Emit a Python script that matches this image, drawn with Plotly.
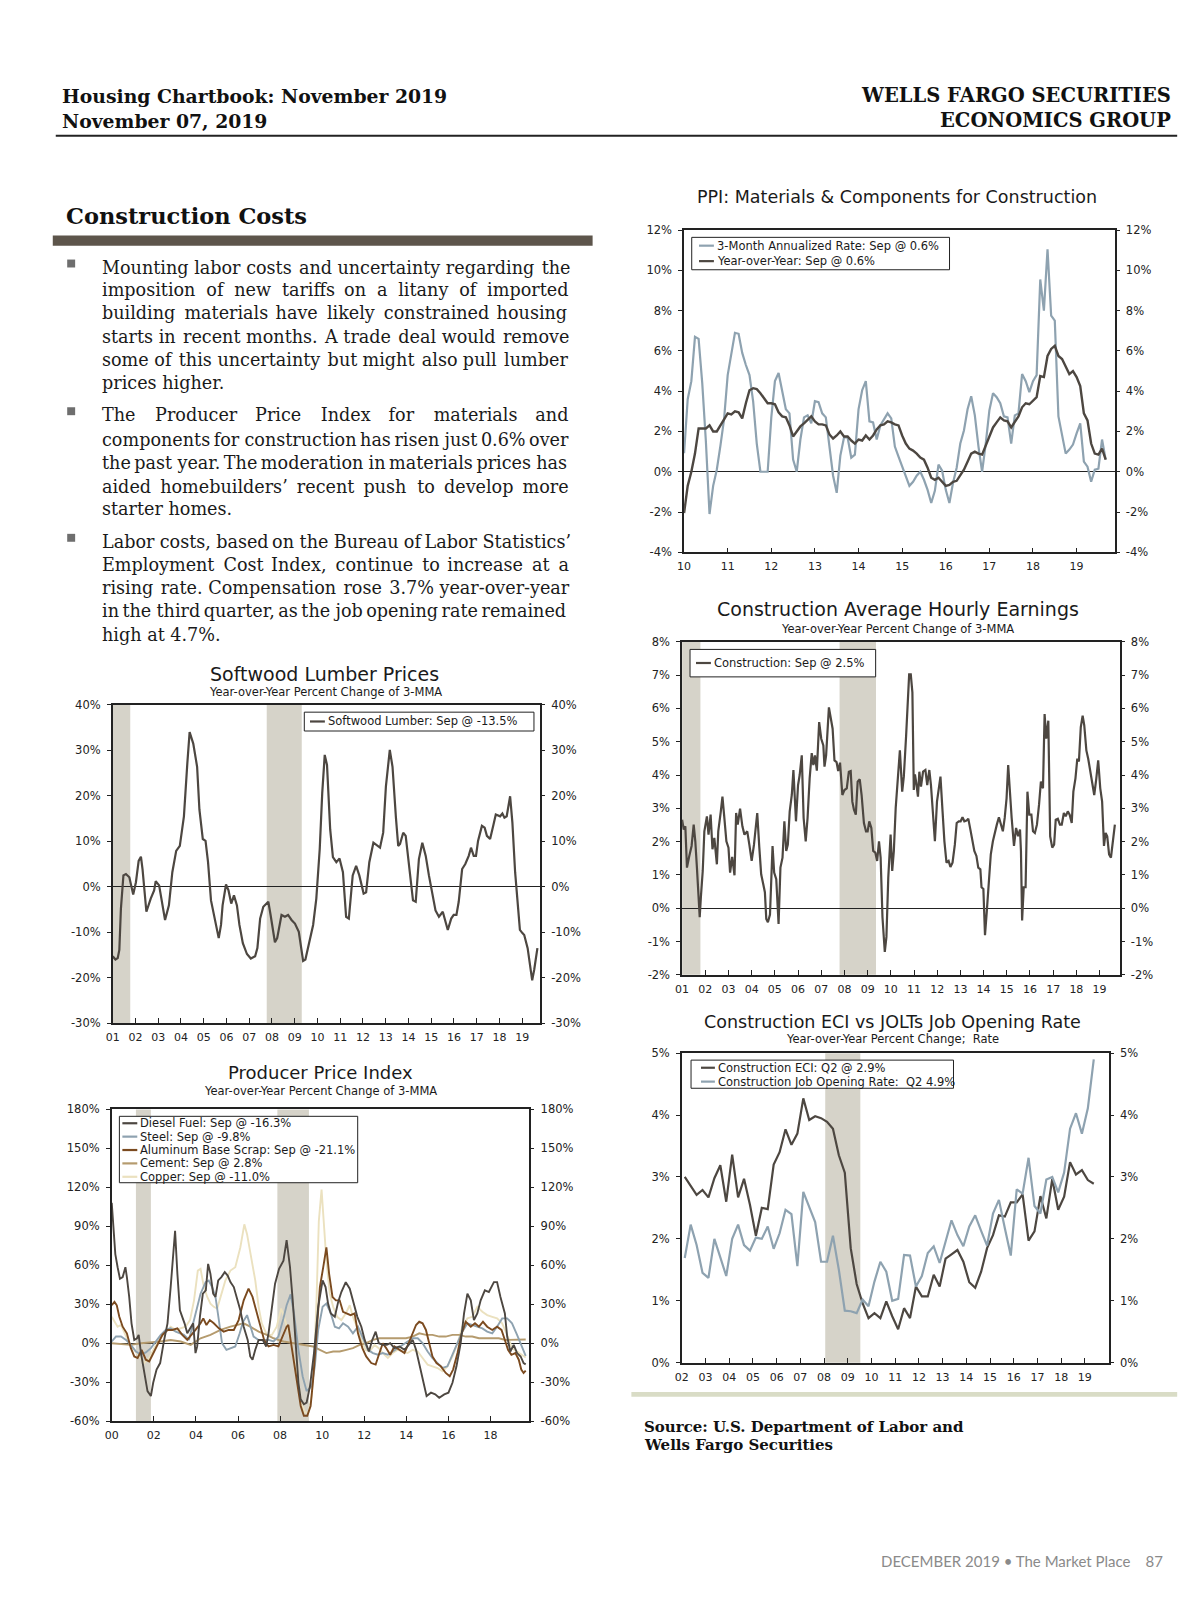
import plotly.graph_objects as go

W, H = 1200, 1606
def fx(x): return x / W
def fy(y): return 1 - y / H

DARK = '#4d4741'
LIGHT = '#8ea2b0'
REC = '#d6d3c9'

# ---------------- data ----------------
# PPI: Materials & Components for Construction, monthly Jan-2010 .. Sep-2019
ppi_start = 2010
ppi_3m = [0.92, 3.6, 4.5, 6.7, 6.6, 4.4, 1.5, -2.1, -0.7, 0.1,
          1.3, 2.6, 4.8, 5.9, 6.9, 6.85, 5.9, 5.3, 4.8, 3.5,
          1.4, 0.0, 0.0, 0.0, 2.7, 4.5, 4.9, 4.0, 3.1, 2.9,
          0.6, 0.0, 1.6, 2.7, 2.8, 2.4, 3.5, 3.45, 2.9, 2.7,
          1.3, -0.2, -1.05, 0.8, 1.7, 1.7, 0.7, 0.85, 3.1, 4.05,
          4.5, 2.5, 2.45, 1.6, 2.3, 2.6, 2.9, 2.65, 1.25, 0.75,
          0.25, -0.3, -0.7, -0.5, -0.2, 0.0, -0.4, -0.9, -1.55, -0.95,
          0.35, 0.05, -0.9, -1.55, -0.55, 0.2, 1.4, 2.05, 3.1, 3.75,
          2.8, 1.25, 0.0, 1.4, 3.05, 3.9, 3.7, 3.4, 2.75, 2.7,
          1.4, 2.8, 2.9, 4.85, 4.5, 3.95, 4.5, 4.8, 9.55, 8.0,
          11.05, 7.75, 7.5, 2.75, 1.8, 0.9, 1.1, 1.35, 1.9, 2.4,
          0.5, 0.25, -0.5, 0.1, 0.15, 1.6, 0.6]
ppi_yoy = [-2.05, -0.7, 0.0, 0.9, 2.15, 2.15, 2.15, 2.3, 2.0, 2.0,
           2.3, 2.55, 2.9, 2.85, 3.0, 2.95, 2.65, 3.4, 4.05, 4.15,
           4.1, 3.9, 3.65, 3.4, 3.4, 3.35, 2.95, 2.75, 2.7, 2.3,
           1.75, 2.0, 2.25, 2.4, 2.6, 2.75, 2.5, 2.35, 2.35, 2.3,
           1.85, 1.65, 1.8, 2.0, 1.75, 1.75, 1.55, 1.4, 1.6, 1.55,
           1.8, 1.6, 1.8, 2.1, 2.3, 2.35, 2.5, 2.45, 2.35, 2.3,
           1.8, 1.4, 1.15, 1.05, 0.9, 0.7, 0.6, 0.2, -0.3, -0.4,
           -0.3, -0.5, -0.7, -0.65, -0.5, -0.45, -0.2, 0.1, 0.5, 0.9,
           1.0, 0.9, 0.85, 1.3, 1.8, 2.2, 2.45, 2.7, 2.55, 2.5,
           2.2, 2.5, 2.75, 3.2, 3.4, 3.35, 3.55, 3.7, 4.75, 4.7,
           5.75, 6.1, 6.25, 5.75, 5.6, 5.25, 4.85, 5.0, 4.7, 4.25,
           2.9, 2.55, 1.4, 0.9, 0.85, 1.15, 0.6]

# Softwood lumber, YoY % of 3-MMA (decimal years)
lumber_t = [2001.00, 2001.12, 2001.22, 2001.29, 2001.36, 2001.47, 2001.58, 2001.73, 2001.90,
            2002.02, 2002.14, 2002.24, 2002.31, 2002.48, 2002.67, 2002.82, 2002.89,
            2003.04, 2003.30, 2003.47, 2003.62, 2003.79, 2003.95,
            2004.13, 2004.28, 2004.38, 2004.54, 2004.71, 2004.81, 2004.96,
            2005.08, 2005.19, 2005.32, 2005.44, 2005.66, 2005.76, 2005.83, 2005.98,
            2006.09, 2006.21, 2006.33, 2006.46, 2006.57, 2006.72, 2006.90,
            2007.07, 2007.26, 2007.36, 2007.48, 2007.62, 2007.84, 2007.94,
            2008.13, 2008.23, 2008.42, 2008.57, 2008.71, 2008.86,
            2009.01, 2009.18, 2009.37, 2009.47, 2009.66, 2009.81, 2009.95,
            2010.10, 2010.21, 2010.32, 2010.42, 2010.56, 2010.68, 2010.83, 2010.97,
            2011.12, 2011.26, 2011.38, 2011.55, 2011.70, 2011.84,
            2012.03, 2012.14, 2012.28, 2012.46, 2012.64, 2012.75, 2012.89,
            2013.01, 2013.18, 2013.30, 2013.45, 2013.55, 2013.63, 2013.77, 2013.88,
            2014.00, 2014.10, 2014.20, 2014.32, 2014.46, 2014.61, 2014.76, 2014.90,
            2015.05, 2015.19, 2015.34, 2015.51, 2015.73, 2015.88, 2015.99,
            2016.11, 2016.21, 2016.36, 2016.50, 2016.65, 2016.75, 2016.87, 2016.97,
            2017.06, 2017.23, 2017.35, 2017.45, 2017.59, 2017.74, 2017.84,
            2018.03, 2018.13, 2018.22, 2018.32, 2018.47, 2018.57, 2018.69, 2018.83, 2018.90,
            2019.01, 2019.09, 2019.24, 2019.34, 2019.44, 2019.53, 2019.67]
lumber_v = [-15.3, -16.0, -15.7, -13.9, -4.8, 2.5, 2.8, 2.1, -1.7,
            1.0, 5.7, 6.6, 3.9, -5.5, -2.6, -0.8, 1.2,
            0.3, -7.3, -4.1, 3.2, 7.9, 9.0,
            15.5, 27.2, 34.0, 31.5, 26.4, 17.0, 10.5,
            10.1, 5.4, -3.0, -6.2, -11.3, -8.4, -4.1, 0.5,
            -0.8, -3.7, -1.9, -4.1, -8.4, -12.4, -14.8,
            -15.8, -15.3, -13.5, -7.0, -4.4, -3.3, -6.2,
            -12.2, -11.3, -6.2, -6.6, -6.2, -7.3,
            -8.1, -9.9, -16.3, -16.0, -12.0, -8.4, -2.6,
            8.3, 20.6, 29.0, 26.8, 12.6, 6.5, 5.4, 6.2,
            3.2, -6.6, -7.0, 2.5, 4.6, 2.5,
            -1.5, -1.2, 5.4, 9.7, 8.9, 8.6, 11.9,
            22.1, 30.1, 26.4, 15.2, 9.0, 9.4, 11.9, 11.2,
            5.4, 1.0, -3.0, -3.3, 6.1, 9.7, 6.8, 2.5,
            -1.9, -5.2, -6.6, -5.5, -9.5, -7.0, -6.2,
            -6.2, -3.3, 3.9, 5.0, 6.8, 8.6, 6.8, 6.8,
            10.1, 13.4, 13.0, 11.2, 10.5, 13.7, 15.9,
            15.5, 16.1, 15.2, 15.5, 19.9, 14.1, 3.2, -4.8, -9.5,
            -10.2, -10.6, -13.5, -17.1, -20.6, -18.2, -13.5]

# Construction average hourly earnings, YoY % of 3-MMA
ahe_t = [2001.00, 2001.07, 2001.14, 2001.21, 2001.31, 2001.41, 2001.50, 2001.57, 2001.64, 2001.70,
         2001.76, 2001.81, 2001.89, 2001.96, 2002.07, 2002.14, 2002.23, 2002.31, 2002.39, 2002.50,
         2002.56, 2002.67, 2002.74, 2002.81, 2002.91, 2003.00, 2003.07, 2003.16, 2003.26, 2003.33,
         2003.40, 2003.50, 2003.60, 2003.69, 2003.81, 2003.90, 2004.00, 2004.10, 2004.24, 2004.33,
         2004.41, 2004.50, 2004.57, 2004.63, 2004.70, 2004.79, 2004.90, 2004.97, 2005.06, 2005.16,
         2005.24, 2005.33, 2005.41, 2005.49, 2005.56, 2005.64, 2005.73, 2005.80, 2005.91, 2006.00,
         2006.07, 2006.16, 2006.24, 2006.33, 2006.41, 2006.50, 2006.59, 2006.66, 2006.73, 2006.81,
         2006.91, 2007.00, 2007.09, 2007.14, 2007.21, 2007.33, 2007.41, 2007.49, 2007.57, 2007.66,
         2007.73, 2007.81, 2007.91, 2008.00, 2008.10, 2008.19, 2008.27, 2008.34, 2008.41, 2008.49,
         2008.57, 2008.66, 2008.74, 2008.84, 2008.93, 2009.00, 2009.07, 2009.16, 2009.24, 2009.33,
         2009.41, 2009.49, 2009.56, 2009.64, 2009.74, 2009.81, 2009.89, 2009.99, 2010.06, 2010.13,
         2010.21, 2010.31, 2010.39, 2010.49, 2010.56, 2010.66, 2010.73, 2010.79, 2010.86, 2010.93,
         2010.99, 2011.04, 2011.10, 2011.17, 2011.23, 2011.30, 2011.39, 2011.49, 2011.57, 2011.66,
         2011.73, 2011.81, 2011.90, 2011.99, 2012.06, 2012.14, 2012.23, 2012.31, 2012.40, 2012.49,
         2012.57, 2012.66, 2012.76, 2012.84, 2012.93, 2013.01, 2013.09, 2013.17, 2013.26, 2013.34,
         2013.43, 2013.51, 2013.60, 2013.69, 2013.77, 2013.86, 2013.91, 2013.99, 2014.06, 2014.14,
         2014.23, 2014.31, 2014.40, 2014.49, 2014.57, 2014.66, 2014.74, 2014.83, 2014.91, 2014.99,
         2015.06, 2015.13, 2015.21, 2015.31, 2015.40, 2015.49, 2015.57, 2015.61, 2015.66, 2015.73,
         2015.81, 2015.89, 2015.97, 2016.06, 2016.13, 2016.21, 2016.30, 2016.39, 2016.47, 2016.56,
         2016.63, 2016.70, 2016.79, 2016.87, 2016.96, 2017.04, 2017.11, 2017.20, 2017.29, 2017.37,
         2017.46, 2017.54, 2017.63, 2017.71, 2017.80, 2017.87, 2017.96, 2018.04, 2018.11, 2018.19,
         2018.27, 2018.34, 2018.43, 2018.51, 2018.60, 2018.69, 2018.77, 2018.86, 2018.94, 2019.03,
         2019.11, 2019.19, 2019.26, 2019.33, 2019.41, 2019.49, 2019.57, 2019.66]
ahe_v = [2.66, 2.36, 2.46, 1.22, 1.57, 1.87, 2.51, 2.01, 1.22, 0.43,
         -0.27, 0.33, 1.12, 2.31, 2.76, 2.21, 2.81, 1.77, 2.11, 1.32,
         2.31, 2.91, 3.35, 2.81, 2.01, 1.82, 1.07, 1.54, 0.99, 2.86,
         2.51, 2.99, 2.46, 2.21, 2.31, 1.91, 1.42, 1.91, 2.86, 1.82,
         1.02, 0.72, 0.48, -0.32, -0.42, -0.19, 1.87, 1.07, 0.87, -0.47,
         1.22, 1.52, 2.61, 1.72, 1.91, 2.91, 3.40, 4.15, 2.61, 3.70,
         4.00, 4.59, 2.71, 2.01, 2.71, 3.90, 4.66, 4.30, 4.59, 4.13,
         5.59, 5.09, 4.89, 4.25, 4.59, 6.03, 5.68, 5.39, 4.44, 4.39,
         4.12, 4.37, 3.40, 3.55, 3.60, 4.10, 4.12, 3.20, 2.96, 2.81,
         3.80, 3.87, 3.40, 2.56, 2.31, 2.31, 2.61, 2.41, 1.72, 1.67,
         1.42, 2.01, 1.52, -0.27, -1.31, -0.86, 0.92, 2.21, 1.12, 1.72,
         3.01, 4.10, 4.74, 3.50, 3.95, 5.19, 5.98, 7.02, 7.02, 6.48,
         3.55, 4.02, 3.75, 3.35, 4.10, 3.65, 4.10, 4.15, 3.70, 4.15,
         3.70, 2.91, 2.01, 3.20, 3.50, 3.95, 2.91, 2.01, 1.37, 1.42,
         1.24, 1.37, 1.91, 2.56, 2.61, 2.61, 2.73, 2.61, 2.63, 2.69,
         2.36, 2.06, 1.72, 1.57, 1.22, 1.17, 0.63, 0.58, -0.81, -0.07,
         0.82, 1.62, 2.01, 2.31, 2.51, 2.73, 2.51, 2.31, 2.71, 3.30,
         4.30, 3.50, 2.71, 1.87, 2.41, 2.16, 2.36, 1.72, -0.37, 0.63,
         0.63, 3.50, 2.81, 2.81, 2.31, 2.26, 2.51, 3.11, 3.80, 3.60,
         5.83, 5.09, 5.63, 2.16, 1.82, 1.91, 2.66, 2.69, 2.51, 2.51,
         2.86, 2.76, 2.91, 2.81, 2.56, 3.50, 3.90, 4.49, 4.41, 5.44,
         5.78, 5.49, 4.74, 4.49, 4.15, 3.80, 3.40, 3.90, 4.44, 3.60,
         3.20, 1.87, 2.26, 2.16, 1.62, 1.52, 2.01, 2.51]

# Construction ECI vs JOLTS job opening rate, quarterly 2002Q1 .. 2019Q2
eci_start = 2002
eci = [3.0, 2.86, 2.71, 2.79, 2.67, 2.98, 3.19, 2.6, 3.36, 2.67,
       2.97, 2.55, 2.05, 2.5, 2.48, 3.2, 3.4, 3.77, 3.52, 3.7,
       4.27, 3.92, 3.98, 3.95, 3.89, 3.78, 3.35, 3.07, 1.85, 1.27,
       0.96, 0.72, 0.8, 0.72, 0.99, 0.75, 0.54, 0.88, 0.72, 1.23,
       1.07, 1.07, 1.42, 1.23, 1.68, 1.75, 1.82, 1.63, 1.3, 1.21,
       1.47, 1.85, 2.06, 2.38, 2.36, 2.59, 2.59, 2.72, 1.97, 2.12,
       2.69, 2.33, 2.97, 2.47, 2.68, 3.24, 3.04, 3.11, 2.95, 2.89]
jolts = [1.69, 2.23, 1.9, 1.45, 1.37, 2.0, 1.7, 1.4, 2.0, 2.23,
         1.9, 1.81, 2.02, 2.0, 2.2, 1.84, 2.09, 2.47, 2.4, 1.56,
         2.76, 2.52, 2.27, 1.63, 1.63, 2.05, 1.5, 0.84, 0.83, 0.8,
         1.02, 0.91, 1.31, 1.63, 1.47, 1.0, 1.03, 1.74, 1.73, 1.23,
         1.4, 1.77, 1.88, 1.61, 1.96, 2.3, 2.06, 1.88, 2.2, 2.38,
         2.13, 1.89, 2.41, 2.63, 2.17, 1.73, 2.8, 2.73, 3.31, 2.53,
         2.41, 2.96, 3.0, 2.75, 3.07, 3.78, 4.03, 3.7, 4.11, 4.9]

# Producer price index components, YoY % of 3-MMA
diesel_t = [2000.00, 2000.08, 2000.17, 2000.28, 2000.39, 2000.52, 2000.65, 2000.72, 2000.83, 2000.94,
            2001.07, 2001.20, 2001.28, 2001.39, 2001.51, 2001.70, 2001.86, 2001.97, 2002.13, 2002.30,
            2002.49, 2002.65, 2002.80, 2002.93, 2003.01, 2003.12, 2003.24, 2003.35, 2003.46, 2003.59,
            2003.75, 2003.87, 2003.98, 2004.06, 2004.19, 2004.33, 2004.47, 2004.58, 2004.69, 2004.82,
            2004.93, 2005.06, 2005.21, 2005.37, 2005.51, 2005.64, 2005.80, 2005.95, 2006.11, 2006.27,
            2006.46, 2006.58, 2006.69, 2006.82, 2006.98, 2007.18, 2007.34, 2007.45, 2007.61, 2007.76,
            2007.95, 2008.16, 2008.31, 2008.47, 2008.60, 2008.74, 2008.87, 2008.98, 2009.13, 2009.26,
            2009.42, 2009.61, 2009.81, 2010.02, 2010.16, 2010.28, 2010.41, 2010.60, 2010.76, 2010.91,
            2011.12, 2011.31, 2011.46, 2011.67, 2011.86, 2012.02, 2012.22, 2012.38, 2012.54, 2012.69,
            2012.88, 2013.07, 2013.23, 2013.43, 2013.67, 2013.91, 2014.11, 2014.30, 2014.46, 2014.61,
            2014.77, 2014.96, 2015.17, 2015.37, 2015.56, 2015.80, 2016.00, 2016.19, 2016.38, 2016.58,
            2016.74, 2016.90, 2017.06, 2017.21, 2017.37, 2017.53, 2017.73, 2017.92, 2018.16, 2018.31,
            2018.47, 2018.68, 2018.79, 2018.94, 2019.10, 2019.26, 2019.43, 2019.57, 2019.67]
diesel_v = [108, 89, 68.6, 58.5, 49.6, 50.9, 58.5, 50.9, 35.6, 15.3,
            2.5, 3.8, 6.4, -7.6, -20.3, -36.9, -40.7, -30.5, -20.3, -15.3,
            2.5, 15.3, 43.2, 68.6, 86.5, 53.4, 25.4, 20.3, 15.3, 7.6,
            12.7, 15.3, -7.6, -2.5, 20.3, 38.1, 40.7, 61.0, 53.4, 38.1,
            35.6, 48.3, 50.9, 54.7, 52.1, 47.0, 43.2, 34.3, 25.4, 12.7,
            2.5, -10.2, -12.7, -5.1, 2.5, 2.5, -2.5, 7.6, 28.0, 45.8,
            57.2, 63.6, 79.3, 58.5, 33.0, -2.5, -30.5, -43.2, -47.0, -45.8,
            -33.0, -7.6, 28.0, 48.3, 43.2, 30.5, 22.9, 20.3, 31.8, 39.4,
            47.0, 42.0, 33.0, 20.3, 12.7, 2.5, -6.4, 2.5, 8.9, 0.0,
            -1.3, -1.3, 0.0, -3.8, -2.5, -5.1, -1.3, 2.5, -5.1, -15.3,
            -28.0, -40.7, -38.1, -39.4, -42.0, -39.4, -38.1, -30.5, -17.8, 0.0,
            22.9, 38.1, 33.0, 17.8, 22.9, 33.0, 40.7, 39.4, 47.0, 47.0,
            35.6, 22.9, 5.1, -6.4, -1.3, -7.6, -10.2, -15.3, -16.3]
steel_t = [2000.00, 2000.20, 2000.44, 2000.68, 2000.91, 2001.15, 2001.39, 2001.62, 2001.86, 2002.09,
           2002.33, 2002.57, 2002.80, 2003.04, 2003.24, 2003.43, 2003.67, 2003.87, 2004.03, 2004.22,
           2004.46, 2004.61, 2004.77, 2004.93, 2005.09, 2005.24, 2005.45, 2005.64, 2005.87, 2006.08,
           2006.24, 2006.43, 2006.58, 2006.74, 2006.98, 2007.21, 2007.45, 2007.69, 2007.92, 2008.16,
           2008.31, 2008.50, 2008.66, 2008.87, 2009.07, 2009.26, 2009.50, 2009.65, 2009.81, 2010.02,
           2010.20, 2010.41, 2010.60, 2010.80, 2010.99, 2011.23, 2011.46, 2011.70, 2011.94, 2012.17,
           2012.41, 2012.65, 2012.88, 2013.12, 2013.35, 2013.59, 2013.83, 2014.06, 2014.30, 2014.54,
           2014.77, 2015.01, 2015.24, 2015.48, 2015.72, 2015.95, 2016.19, 2016.43, 2016.66, 2016.90,
           2017.13, 2017.37, 2017.61, 2017.84, 2018.08, 2018.31, 2018.55, 2018.79, 2019.02, 2019.26,
           2019.50, 2019.67]
steel_v = [1.3, 5.1, 5.1, 2.5, -1.3, -6.4, -8.9, -7.1, -3.8, 1.3,
           6.4, 10.2, 11.4, 8.9, 7.6, 6.4, 2.5, 15.3, 25.4, 38.1,
           47.0, 48.3, 43.2, 35.6, 17.8, 0.0, -5.1, -3.8, -2.5, 7.6,
           16.5, 21.6, 12.7, 5.1, 2.5, 2.5, 2.5, 1.3, 5.1, 19.1,
           29.2, 37.6, 22.9, -5.1, -25.4, -36.9, -33.0, -17.8, 10.2, 28.0,
           30.5, 22.9, 12.7, 11.4, 15.3, 12.7, 7.6, 12.7, 3.8, -5.1,
           -7.6, -8.9, -7.6, -8.9, -6.4, -3.8, -1.3, 1.3, 3.8, 3.8,
           0.0, -6.4, -11.4, -15.3, -19.1, -17.8, -8.9, 1.3, 8.9, 15.3,
           14.0, 12.7, 11.4, 8.9, 7.6, 12.7, 19.1, 19.1, 15.3, 6.4,
           -3.8, -9.8]
alum_t = [2000.00, 2000.13, 2000.24, 2000.36, 2000.52, 2000.72, 2000.91, 2001.07, 2001.23, 2001.42,
          2001.62, 2001.78, 2001.94, 2002.17, 2002.41, 2002.65, 2002.88, 2003.12, 2003.35, 2003.59,
          2003.80, 2003.98, 2004.22, 2004.35, 2004.50, 2004.66, 2004.85, 2005.09, 2005.32, 2005.56,
          2005.80, 2006.03, 2006.27, 2006.50, 2006.69, 2006.87, 2007.06, 2007.24, 2007.45, 2007.69,
          2007.92, 2008.13, 2008.31, 2008.39, 2008.50, 2008.66, 2008.82, 2008.98, 2009.13, 2009.29,
          2009.45, 2009.57, 2009.73, 2009.89, 2010.05, 2010.20, 2010.33, 2010.49, 2010.65, 2010.83,
          2010.99, 2011.15, 2011.35, 2011.54, 2011.70, 2011.91, 2012.09, 2012.33, 2012.54, 2012.72,
          2012.88, 2013.04, 2013.23, 2013.43, 2013.67, 2013.91, 2014.11, 2014.30, 2014.46, 2014.61,
          2014.77, 2014.93, 2015.09, 2015.24, 2015.43, 2015.64, 2015.87, 2016.06, 2016.22, 2016.43,
          2016.63, 2016.82, 2017.06, 2017.26, 2017.45, 2017.64, 2017.84, 2018.08, 2018.31, 2018.52,
          2018.68, 2018.83, 2018.99, 2019.18, 2019.34, 2019.46, 2019.57, 2019.67]
alum_v = [29.2, 31.8, 29.2, 20.3, 12.7, 7.6, -3.8, -10.2, -11.4, -5.1,
          -12.7, -14.0, -8.9, -1.3, 6.4, 10.2, 10.2, 11.4, 6.4, 2.5,
          6.4, 10.2, 15.3, 19.1, 14.0, 17.8, 15.3, 11.4, 8.9, 10.2,
          10.2, 17.8, 33.0, 42.0, 35.6, 25.4, 12.7, 2.5, -2.5, -1.3,
          -2.5, 5.1, 12.7, 14.0, 2.5, -12.7, -33.0, -48.3, -55.9, -55.9,
          -48.3, -28.0, 7.6, 43.2, 58.5, 73.7, 53.4, 35.6, 33.0, 33.0,
          24.2, 22.9, 21.6, 22.9, 7.6, -3.8, -10.2, -15.3, -16.5, -7.6,
          0.0, -3.8, -8.9, -2.5, -5.1, -7.6, 0.0, 7.6, 14.0, 16.5,
          15.3, 10.2, 0.0, -10.2, -15.3, -17.8, -22.9, -25.4, -20.3, -7.6,
          7.6, 16.5, 12.7, 15.3, 12.7, 16.5, 12.7, 10.2, 12.7, 10.2,
          2.5, -5.1, -8.9, -7.6, -12.7, -20.3, -22.9, -21.1]
cement_t = [2000.00, 2000.44, 2000.91, 2001.39, 2001.86, 2002.33, 2002.80, 2003.28, 2003.75, 2004.22,
            2004.69, 2005.17, 2005.64, 2006.03, 2006.27, 2006.58, 2006.98, 2007.37, 2007.69, 2008.16,
            2008.63, 2009.10, 2009.57, 2009.89, 2010.20, 2010.52, 2010.83, 2011.15, 2011.46, 2011.78,
            2012.09, 2012.41, 2012.72, 2013.04, 2013.51, 2013.98, 2014.30, 2014.61, 2014.93, 2015.24,
            2015.56, 2015.87, 2016.19, 2016.50, 2016.82, 2017.13, 2017.45, 2017.76, 2018.08, 2018.39,
            2018.71, 2019.02, 2019.34, 2019.67]
cement_v = [0.0, -0.5, -1.3, 0.0, 0.5, 1.3, 2.5, 1.3, -1.3, 3.8,
            6.4, 10.2, 12.7, 14.0, 15.3, 12.7, 8.9, 6.4, 3.8, 1.3,
            0.0, -1.3, -2.5, -5.1, -7.6, -6.4, -6.4, -5.1, -3.8, -1.3,
            0.0, 2.5, 3.8, 3.8, 3.8, 3.8, 5.1, 7.6, 6.4, 6.4,
            5.1, 5.1, 6.4, 6.4, 5.1, 5.1, 3.8, 3.8, 3.8, 3.8,
            2.5, 2.5, 2.5, 2.8]
copper_t = [2000.00, 2000.13, 2000.28, 2000.44, 2000.63, 2000.83, 2001.07, 2001.31, 2001.54, 2001.78,
            2002.02, 2002.30, 2002.57, 2002.80, 2003.04, 2003.28, 2003.51, 2003.72, 2003.91, 2004.09,
            2004.22, 2004.38, 2004.54, 2004.69, 2004.85, 2005.01, 2005.17, 2005.40, 2005.64, 2005.87,
            2006.11, 2006.30, 2006.43, 2006.61, 2006.82, 2006.98, 2007.13, 2007.37, 2007.61, 2007.84,
            2008.05, 2008.19, 2008.31, 2008.50, 2008.66, 2008.87, 2009.02, 2009.18, 2009.34, 2009.50,
            2009.62, 2009.73, 2009.84, 2009.97, 2010.08, 2010.20, 2010.36, 2010.52, 2010.71, 2010.91,
            2011.12, 2011.31, 2011.46, 2011.65, 2011.86, 2012.06, 2012.25, 2012.49, 2012.69, 2012.88,
            2013.12, 2013.35, 2013.59, 2013.83, 2014.06, 2014.30, 2014.54, 2014.77, 2015.01, 2015.24,
            2015.48, 2015.72, 2015.95, 2016.19, 2016.43, 2016.66, 2016.90, 2017.13, 2017.37, 2017.61,
            2017.84, 2018.08, 2018.31, 2018.55, 2018.79, 2019.02, 2019.26, 2019.50, 2019.67]
copper_v = [20.3, 16.5, 12.7, 14.0, 7.6, 0.0, -5.1, -10.2, -15.3, -11.4,
            -3.8, 3.8, 8.9, 12.7, 10.2, 11.4, 12.7, 17.8, 33.0, 55.9,
            57.2, 43.2, 35.6, 30.5, 28.0, 26.7, 35.6, 48.3, 55.9, 58.5,
            73.7, 91.5, 83.9, 68.6, 48.3, 28.0, 15.3, 6.4, 6.4, 12.7,
            26.7, 20.3, 12.7, 2.5, -12.7, -33.0, -45.8, -53.4, -53.4, -40.7,
            -12.7, 33.0, 94.0, 118.2, 94.0, 63.6, 38.1, 28.0, 20.3, 17.8,
            22.9, 29.2, 20.3, 12.7, 2.5, -5.1, -6.4, -1.3, -3.8, -7.6,
            -11.4, -7.6, -5.1, -6.4, -7.6, -5.1, -6.4, -11.4, -16.5, -17.8,
            -19.1, -21.6, -17.8, -10.2, 0.0, 12.7, 19.1, 20.3, 28.0, 24.2,
            21.6, 20.3, 19.1, 15.3, 6.4, -3.8, -6.4, -8.9, -11.0]

# recession shading as drawn in each chart (decimal years)
rec_lumber = [(2001.0, 2001.77), (2007.77, 2009.31)]
rec_ahe = [(2001.0, 2001.79), (2007.79, 2009.36)]
rec_eci = [(2008.05, 2009.53)]
rec_ppi = [(2001.15, 2001.86), (2007.87, 2009.37)]

# ---------------- figure ----------------
fig = go.Figure()
shapes = []
ann = []

def text(x, y, s, size, family='DejaVu Sans', color='#1a1a1a', xanchor='left', yanchor='middle'):
    ann.append(dict(x=fx(x), y=fy(y), xref='paper', yref='paper', text=s, showarrow=False,
                    xanchor=xanchor, yanchor=yanchor, font=dict(size=size, family=family, color=color)))

def rect(x0, y0, x1, y1, fill, line=None, lw=0):
    shapes.append(dict(type='rect', xref='paper', yref='paper', x0=fx(x0), x1=fx(x1), y0=fy(y1), y1=fy(y0),
                       fillcolor=fill, line=dict(color=line or fill, width=lw), layer='above'))

def hline(x0, x1, y, color, w):
    shapes.append(dict(type='line', xref='paper', yref='paper', x0=fx(x0), x1=fx(x1), y0=fy(y), y1=fy(y),
                       line=dict(color=color, width=w), layer='above'))

charts = {
    1: dict(xd=(673, 1106), yd=(217, 542), xr=(2010, 2019.87), xt=list(range(2010, 2020)),
            yr=(-4, 12), yt=list(range(-4, 13, 2))),
    2: dict(xd=(671, 1111), yd=(632.3, 968.3), xr=(2001, 2019.86), xt=list(range(2001, 2020)),
            yr=(-2, 8), yt=list(range(-2, 9))),
    3: dict(xd=(670.7, 1100), yd=(1047.3, 1359.5), xr=(2002, 2020), xt=list(range(2002, 2021)),
            yr=(0, 5), yt=list(range(0, 6))),
    4: dict(xd=(98.3, 528), yd=(696, 1017), xr=(2001, 2019.78), xt=list(range(2001, 2020)),
            yr=(-30, 40), yt=list(range(-30, 41, 10))),
    5: dict(xd=(97.3, 517.3), yd=(1104, 1418.5), xr=(2000, 2019.84), xt=list(range(2000, 2019, 2)),
            yr=(-60, 180), yt=list(range(-60, 181, 30))),
}

layout_axes = {}
for i, c in charts.items():
    xt_text = [f"{y % 100:02d}" for y in c['xt']]
    if i == 3:
        xt_text[-1] = ''
    yt_text = [f"{v}%" for v in c['yt']]
    xa = dict(domain=[fx(c['xd'][0]), fx(c['xd'][1])], range=list(c['xr']), anchor=f'y{i}',
              tickmode='array', tickvals=c['xt'], ticktext=xt_text, showline=True, mirror=True,
              linecolor='#222', linewidth=1.5, ticks='inside', ticklen=5, tickcolor='#222',
              tickfont=dict(family='DejaVu Sans', size=11, color='#222'), showgrid=False, zeroline=False,
              ticklabelstandoff=3)
    ya = dict(domain=[fy(c['yd'][1]), fy(c['yd'][0])], range=list(c['yr']), anchor=f'x{i}',
              tickmode='array', tickvals=c['yt'], ticktext=yt_text, showline=True, mirror=True,
              linecolor='#222', linewidth=1.5, ticks='outside', ticklen=4, tickcolor='#222',
              tickfont=dict(family='DejaVu Sans', size=11.5, color='#222'), showgrid=False,
              zeroline=True, zerolinecolor='#222', zerolinewidth=1, ticklabelstandoff=4)
    yb = dict(overlaying=f'y{i}', side='right', range=list(c['yr']), anchor=f'x{i}',
              tickmode='array', tickvals=c['yt'], ticktext=yt_text, showline=False,
              ticks='outside', ticklen=4, tickcolor='#222',
              tickfont=dict(family='DejaVu Sans', size=11.5, color='#222'), showgrid=False,
              zeroline=False, ticklabelstandoff=4)
    layout_axes[f'xaxis{i}'] = xa
    layout_axes[f'yaxis{i}'] = ya
    layout_axes[f'yaxis{i + 5}'] = yb
    fig.add_trace(go.Scatter(x=[c['xr'][0]], y=[c['yr'][0]], xaxis=f'x{i}', yaxis=f'y{i + 5}',
                             mode='markers', marker=dict(opacity=0), showlegend=False, hoverinfo='skip'))

def rec_shapes(periods, i):
    for a, b in periods:
        shapes.append(dict(type='rect', xref=f'x{i}', yref=f'y{i} domain', x0=a, x1=b, y0=0, y1=1,
                           fillcolor=REC, line=dict(width=0), layer='below'))

rec_shapes(rec_ahe, 2)
rec_shapes(rec_eci, 3)
rec_shapes(rec_lumber, 4)
rec_shapes(rec_ppi, 5)

def line(x, y, i, color, width=2.2):
    fig.add_trace(go.Scatter(x=x, y=y, xaxis=f'x{i}', yaxis=f'y{i}', mode='lines',
                             line=dict(color=color, width=width), showlegend=False, hoverinfo='skip'))

ppi_x = [ppi_start + k / 12 for k in range(len(ppi_3m))]
line(ppi_x, ppi_3m, 1, LIGHT, 2.2)
line(ppi_x, ppi_yoy, 1, DARK, 2.4)
line(ahe_t, ahe_v, 2, DARK, 2.2)
eci_x = [eci_start + 0.125 + 0.25 * k for k in range(len(eci))]
line(eci_x, eci, 3, DARK, 2.2)
line(eci_x, jolts, 3, LIGHT, 2.2)
line(lumber_t, lumber_v, 4, DARK, 2.2)
line(copper_t, copper_v, 5, '#ebe1bf', 1.9)
line(cement_t, cement_v, 5, '#b59b6e', 1.9)
line(steel_t, steel_v, 5, LIGHT, 1.9)
line(alum_t, alum_v, 5, '#7b4a1f', 1.9)
line(diesel_t, diesel_v, 5, DARK, 1.9)

# ---------------- legends (drawn boxes) ----------------
def legend_box(x0, y0, x1, y1, entries, lx0, lx1, tx, size=11.5):
    rect(x0, y0, x1, y1, 'white', '#222', 1)
    for label, color, yc in entries:
        hline(lx0, lx1, yc, color, 2.2)
        text(tx, yc, label, size)

legend_box(680.7, 224.3, 940, 257,
           [('3-Month Annualized Rate: Sep @ 0.6%', LIGHT, 232.7),
            ('Year-over-Year: Sep @ 0.6%', DARK, 248.3)], 688, 703, 704)
legend_box(679, 640, 865.7, 667.7, [('Construction: Sep @ 2.5%', DARK, 653.7)], 685, 700, 700.7)
legend_box(680, 1054.3, 944, 1082.7,
           [('Construction ECI: Q2 @ 2.9%', DARK, 1062),
            ('Construction Job Opening Rate:  Q2 4.9%', LIGHT, 1076)], 690, 704, 704.7)
legend_box(291, 703.3, 522, 722.3, [('Softwood Lumber: Sep @ -13.5%', DARK, 712.7)], 296.7, 311.7, 313.3)
legend_box(105, 1111, 344.7, 1178,
           [('Diesel Fuel: Sep @ -16.3%', DARK, 1118),
            ('Steel: Sep @ -9.8%', LIGHT, 1131.5),
            ('Aluminum Base Scrap: Sep @ -21.1%', '#7b4a1f', 1145),
            ('Cement: Sep @ 2.8%', '#b59b6e', 1158.5),
            ('Copper: Sep @ -11.0%', '#ebe1bf', 1172)], 108, 123, 124)

# ---------------- chart titles ----------------
text(887.5, 183.3, 'PPI: Materials &amp; Components for Construction', 17.5, xanchor='center')
text(887.8, 599.3, 'Construction Average Hourly Earnings', 19, xanchor='center')
text(887.7, 619, 'Year-over-Year Percent Change of 3-MMA', 11.5, xanchor='center')
text(882.7, 1015.7, 'Construction ECI vs JOLTs Job Opening Rate', 17.5, xanchor='center')
text(882.7, 1033.3, 'Year-over-Year Percent Change;  Rate', 11.5, xanchor='center')
text(311.7, 664.3, 'Softwood Lumber Prices', 19, xanchor='center')
text(312, 682.7, 'Year-over-Year Percent Change of 3-MMA', 11.5, xanchor='center')
text(307, 1066.7, 'Producer Price Index', 18, xanchor='center')
text(307, 1085, 'Year-over-Year Percent Change of 3-MMA', 11.5, xanchor='center')

# ---------------- page furniture ----------------
SERIF = 'DejaVu Serif'
text(45.6, 81.7, '<b>Housing Chartbook: November 2019</b>', 18.8, SERIF, '#111')
text(45.6, 106.7, '<b>November 07, 2019</b>', 18.8, SERIF, '#111')
text(1165, 81.7, '<b>WELLS FARGO SECURITIES</b>', 19.5, SERIF, '#111', xanchor='right')
text(1165, 106.7, '<b>ECONOMICS GROUP</b>', 19.5, SERIF, '#111', xanchor='right')
hline(41, 1169, 121.7, '#222', 2)

text(49.7, 203, '<b>Construction Costs</b>', 22.5, SERIF, '#111')
rect(38, 222.5, 581, 232.7, '#5d554b')

# approximate DejaVu Serif advance widths (em), used to justify the body lines
CW = dict(zip('abcdefghijklmnopqrstuvwxyz',
              [.596, .641, .560, .641, .591, .372, .641, .660, .324, .310, .619, .324, .988,
               .660, .602, .641, .641, .481, .513, .400, .660, .581, .848, .596, .581, .525]))
CW.update(dict(zip('ABCDEFGHIJKLMNOPQRSTUVWXYZ',
                   [.722, .718, .731, .802, .732, .684, .774, .863, .398, .400, .744, .676, .984,
                    .843, .787, .668, .787, .732, .662, .691, .824, .722, 1.044, .719, .690, .692])))
CW.update({d: .636 for d in '0123456789'})
CW.update({'.': .318, ',': .318, '-': .338, '%': .950, '\u2019': .318, ':': .337})
HAIR, THIN = '\u200a', '\u2009'

def justify(s, size, width):
    words = s.split(' ')
    n = len(words) - 1
    wsum = sum(sum(CW.get(ch, .6) for ch in w) for w in words)
    g = (width / size - wsum) / n
    out, cum, used = words[0], 0.0, 0.0
    for w in words[1:]:
        cum += g
        need = cum - used
        if need >= 0.318:
            k = int(round((need - 0.318) / 0.1)); gap = ' ' + HAIR * k; used += 0.318 + 0.1 * k
        elif need >= 0.2:
            k = int(round((need - 0.2) / 0.1)); gap = THIN + HAIR * k; used += 0.2 + 0.1 * k
        else:
            k = max(1, int(round(need / 0.1))); gap = HAIR * k; used += 0.1 * k
        out += gap + w
    return out

BODY_SIZE = 17.6
TEXT_X0, TEXT_X1 = 85.7, 556
body = [
    [('Mounting labor costs and uncertainty regarding the', 255),
     ('imposition of new tariffs on a litany of imported', 277.7),
     ('building materials have likely constrained housing', 301),
     ('starts in recent months. A trade deal would remove', 325),
     ('some of this uncertainty but might also pull lumber', 348.3),
     ('prices higher.', 371.7)],
    [('The Producer Price Index for materials and', 404),
     ('components for construction has risen just 0.6% over', 428.3),
     ('the past year. The moderation in materials prices has', 451.7),
     ('aided homebuilders’ recent push to develop more', 475.7),
     ('starter homes.', 498.3)],
    [('Labor costs, based on the Bureau of Labor Statistics’', 531.7),
     ('Employment Cost Index, continue to increase at a', 555),
     ('rising rate. Compensation rose 3.7% year-over-year', 578.3),
     ('in the third quarter, as the job opening rate remained', 601.7),
     ('high at 4.7%.', 625)],
]
for para in body:
    y_first = para[0][1]
    rect(52.5, y_first - 8.3, 60.5, y_first - 0.3, '#6e6e6e')
    for k, (s, y) in enumerate(para):
        if k < len(para) - 1:
            s = justify(s, BODY_SIZE, TEXT_X1 - TEXT_X0)
        text(TEXT_X0, y, s, BODY_SIZE, SERIF, '#1a1a1a')

rect(620, 1389, 1169, 1394, '#d9dcc6')
text(631, 1424, '<b>Source: U.S. Department of Labor and</b>', 15, SERIF, '#111')
text(631, 1442.6, '<b>Wells Fargo Securities</b>', 15, SERIF, '#111')
text(1157, 1560, 'DECEMBER 2019 \u2022 The Market Place\u2003 87', 15, 'Lato', '#8a8a8a', xanchor='right')

fig.update_layout(width=W, height=H, margin=dict(l=0, r=0, t=0, b=0), paper_bgcolor='white',
                  plot_bgcolor='rgba(0,0,0,0)', showlegend=False, shapes=shapes, annotations=ann,
                  **layout_axes)
fig.write_html('out.html')
